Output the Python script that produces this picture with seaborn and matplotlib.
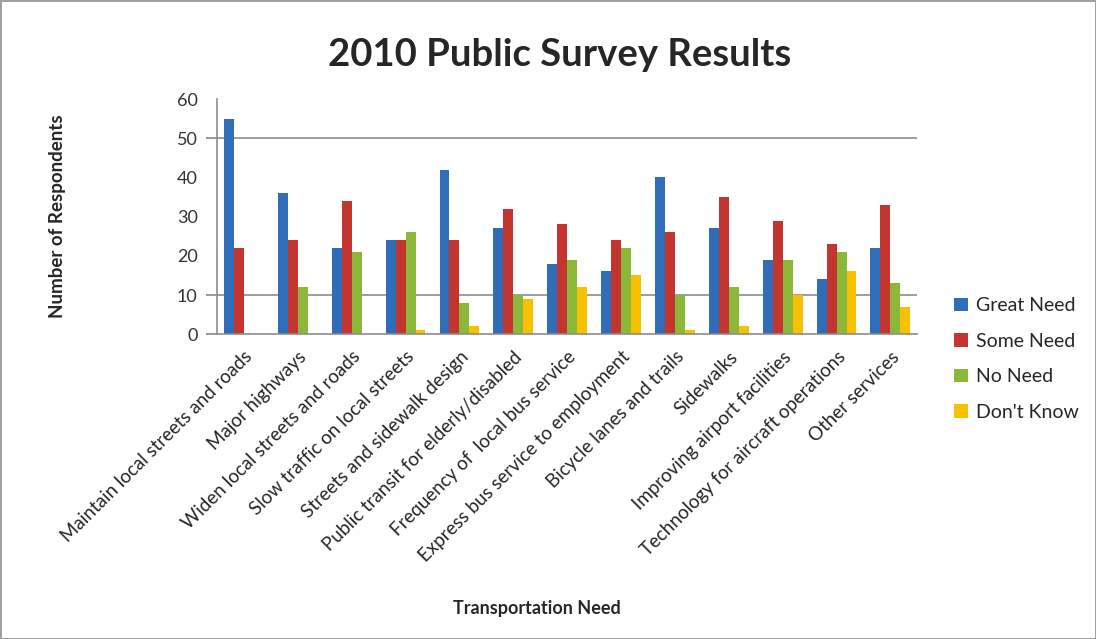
import pandas as pd
import matplotlib.pyplot as plt
import seaborn as sns

sns.set_theme(style="white")
plt.rcParams['font.family'] = ['Lato', 'DejaVu Sans']

needs = ['Maintain local streets and roads', 'Major highways', 'Widen local streets and roads',
         'Slow traffic on local streets', 'Streets and sidewalk design',
         'Public transit for elderly/disabled', 'Frequency of  local bus service',
         'Express bus service to employment', 'Bicycle lanes and trails', 'Sidewalks',
         'Improving airport facilities', 'Technology for aircraft operations', 'Other services']
great_need = [55, 36, 22, 24, 42, 27, 18, 16, 40, 27, 19, 14, 22]
some_need  = [22, 24, 34, 24, 24, 32, 28, 24, 26, 35, 29, 23, 33]
no_need    = [0, 12, 21, 26, 8, 10, 19, 22, 10, 12, 19, 21, 13]
dont_know  = [0, 0, 0, 1, 2, 9, 12, 15, 1, 2, 10, 16, 7]
series = ['Great Need', 'Some Need', 'No Need', "Don't Know"]
colors = ['#2F6DB8', '#C3362F', '#8CB83A', '#F7C000']

df = pd.DataFrame({'need': needs, 'Great Need': great_need, 'Some Need': some_need,
                   'No Need': no_need, "Don't Know": dont_know})
long = df.melt(id_vars='need', var_name='response', value_name='count')

fig = plt.figure(figsize=(10.96, 6.39), dpi=100)
fig.patch.set_edgecolor('#A0A0A0')
fig.patch.set_linewidth(2)
ax = fig.add_axes([0.198, 0.477, 0.639, 0.368])

sns.barplot(data=long, x='need', y='count', hue='response', order=needs, hue_order=series,
            palette=colors, width=0.74, gap=0, edgecolor='none', saturation=1, ax=ax)

ax.set_ylim(0, 60)
ax.set_yticks(range(0, 61, 10))
ax.set_xlim(-0.5, len(needs) - 0.5)
ax.yaxis.grid(True, color='#8C8C8C', linewidth=1.2)
for val, gl in zip(range(0, 61, 10), ax.get_ygridlines()):
    gl.set_visible(val in (10, 50))
ax.tick_params(axis='y', left=True, length=8, color='#8C8C8C', labelsize=13, labelcolor='#333333', pad=6)
for val, tl in zip(range(0, 61, 10), ax.yaxis.get_major_ticks()):
    tl.tick1line.set_visible(val in (0, 10, 50))
ax.tick_params(axis='x', bottom=False, labelsize=13.5, pad=4)
plt.setp(ax.get_xticklabels(), rotation=45, ha='right', rotation_mode='anchor')

sns.despine(ax=ax, top=True, right=True)
for s in ['left', 'bottom']:
    ax.spines[s].set_color('#8C8C8C')
    ax.spines[s].set_linewidth(1.2)

ax.set_xlabel('Transportation Need', fontsize=13, fontweight='bold', labelpad=0)
ax.xaxis.set_label_coords(0.457, -1.13)
ax.set_ylabel('Number of Respondents', fontsize=13.5, fontweight='bold')
ax.yaxis.set_label_coords(-0.215, 0.5)
fig.text(0.511, 0.914, '2010 Public Survey Results', ha='center', va='center',
         fontsize=27.5, fontweight='bold')

leg = ax.legend(loc='center left', bbox_to_anchor=(1.028, -0.106), frameon=False,
                fontsize=14, labelspacing=0.95, handlelength=0.7, handleheight=0.7,
                handletextpad=0.4)

fig.savefig('out.png', dpi=100)
